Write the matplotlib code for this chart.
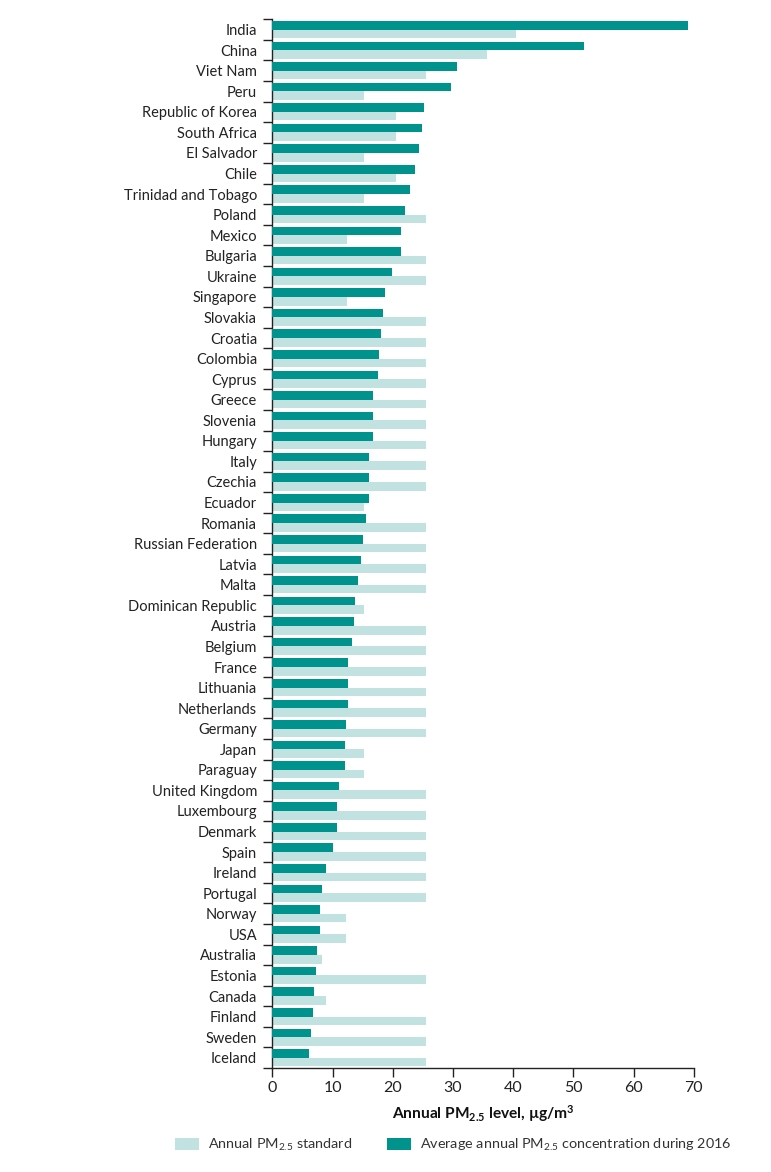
import matplotlib
matplotlib.use("Agg")
import matplotlib.pyplot as plt
import numpy as np
from matplotlib.patches import Patch

countries = ["India", "China", "Viet Nam", "Peru", "Republic of Korea", "South Africa",
             "El Salvador", "Chile", "Trinidad and Tobago", "Poland", "Mexico", "Bulgaria",
             "Ukraine", "Singapore", "Slovakia", "Croatia", "Colombia", "Cyprus", "Greece",
             "Slovenia", "Hungary", "Italy", "Czechia", "Ecuador", "Romania",
             "Russian Federation", "Latvia", "Malta", "Dominican Republic", "Austria",
             "Belgium", "France", "Lithuania", "Netherlands", "Germany", "Japan", "Paraguay",
             "United Kingdom", "Luxembourg", "Denmark", "Spain", "Ireland", "Portugal",
             "Norway", "USA", "Australia", "Estonia", "Canada", "Finland", "Sweden", "Iceland"]

concentration_2016 = [69.0, 51.7, 30.7, 29.7, 25.2, 24.8, 24.4, 23.7, 22.9, 22.0, 21.3, 21.3,
                      19.9, 18.7, 18.4, 18.0, 17.7, 17.5, 16.7, 16.7, 16.7, 16.1, 16.0, 16.0,
                      15.6, 15.1, 14.7, 14.3, 13.7, 13.5, 13.3, 12.6, 12.6, 12.5, 12.3, 12.1,
                      12.1, 11.0, 10.7, 10.7, 10.0, 8.9, 8.3, 8.0, 7.9, 7.5, 7.2, 6.9, 6.8,
                      6.5, 6.1]

standard = [40.4, 35.7, 25.5, 15.3, 20.5, 20.5, 15.3, 20.5, 15.3, 25.5, 12.4, 25.5,
            25.5, 12.4, 25.5, 25.5, 25.5, 25.5, 25.5, 25.5, 25.5, 25.5, 25.5, 15.3,
            25.5, 25.5, 25.5, 25.5, 15.2, 25.5, 25.5, 25.5, 25.5, 25.5, 25.5, 15.3,
            15.3, 25.5, 25.5, 25.5, 25.5, 25.5, 25.5, 12.2, 12.2, 8.2, 25.5, 9.0, 25.5,
            25.5, 25.5]

x_ticks = [0, 10, 20, 30, 40, 50, 60, 70]

DARK = "#00938e"
LIGHT = "#c1e2e0"
FONT = ["Lato", "DejaVu Sans"]

plt.rcParams["font.family"] = FONT
plt.rcParams["mathtext.fontset"] = "custom"
plt.rcParams["mathtext.rm"] = "Lato"
plt.rcParams["mathtext.it"] = "Lato:italic"
plt.rcParams["mathtext.bf"] = "Lato:bold"

fig = plt.figure(figsize=(7.71, 11.72), dpi=100)
ax = fig.add_axes([272.3 / 771, 1 - 1068 / 1172, (693.7 - 272.3) / 771, (1068 - 19.3) / 1172])

y = np.arange(len(countries))
h = 0.42
ax.barh(y - 0.21, concentration_2016, height=h, color=DARK, linewidth=0, zorder=3)
ax.barh(y + 0.21, standard, height=h, color=LIGHT, linewidth=0, zorder=2)

ax.set_xlim(0, 70)
ax.set_ylim(len(countries) - 0.5, -0.5)

ax.set_yticks(np.arange(len(countries) + 1) - 0.5)
ax.set_yticklabels([])
ax.set_yticks(y, minor=True)
ax.set_yticklabels(countries, minor=True)
ax.tick_params(axis="y", which="major", length=6.5, width=1.0, direction="out", color="#222222")
ax.tick_params(axis="y", which="minor", length=0, pad=11, labelsize=10.5, labelcolor="#222222")

ax.set_xticks(x_ticks)
ax.set_xticklabels([str(t) for t in x_ticks])
ax.tick_params(axis="x", length=6.5, width=1.0, labelsize=11.5, pad=3,
               color="#222222", labelcolor="#222222")

for s in ["top", "right"]:
    ax.spines[s].set_visible(False)
for s in ["left", "bottom"]:
    ax.spines[s].set_linewidth(1.0)
    ax.spines[s].set_color("#222222")

ax.set_xlabel(r"Annual PM$_{\mathbf{2.5}}$ level, µg/m$^{\mathbf{3}}$", fontsize=11.2,
              fontweight="bold", labelpad=6, color="#111111")

handles = [Patch(facecolor=LIGHT, edgecolor="none"), Patch(facecolor=DARK, edgecolor="none")]
labels = [r"Annual PM$_{2.5}$ standard", r"Average annual PM$_{2.5}$ concentration during 2016"]
leg = fig.legend(handles, labels, loc="center", bbox_to_anchor=(453 / 771, 1 - 1145 / 1172),
                 ncol=2, frameon=False, fontsize=10.4, handlelength=1.7, handleheight=0.9,
                 columnspacing=2.4, handletextpad=0.6)
for t in leg.get_texts():
    t.set_color("#333333")

fig.savefig("out.png", dpi=100, facecolor="white")
